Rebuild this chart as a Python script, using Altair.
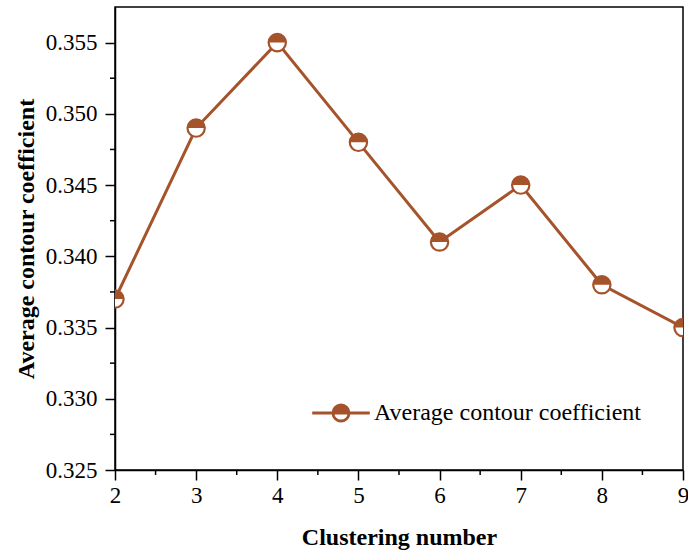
import altair as alt
import pandas as pd

clusters = [2, 3, 4, 5, 6, 7, 8, 9]
coef = [0.337, 0.349, 0.355, 0.348, 0.341, 0.345, 0.338, 0.335]
y_ticks = [0.325, 0.330, 0.335, 0.340, 0.345, 0.350, 0.355]
y_minor = [0.3275, 0.3325, 0.3375, 0.3425, 0.3475, 0.3525]
x_ticks = [2, 3, 4, 5, 6, 7, 8, 9]
x_minor = [2.5, 3.5, 4.5, 5.5, 6.5, 7.5, 8.5]
series_name = "Average contour coefficient"

C = "#A5532B"
FONT = "Liberation Serif"
W, H = 568, 463

df = pd.DataFrame({"k": clusters, "v": coef, "s": [series_name] * len(clusters)})
dfy = pd.DataFrame({"m": y_minor})
dfx = pd.DataFrame({"m": x_minor})

xs = alt.Scale(domain=[2, 9], nice=False, zero=False)
ys = alt.Scale(domain=[0.325, 0.3575], nice=False, zero=False)

common = dict(tickSize=10, grid=False, labelFont=FONT, labelFontSize=23, labelColor="black",
              titleFont=FONT, titleFontSize=24, titleFontWeight="bold", titleColor="black",
              domainColor="black", domainWidth=1.5, tickColor="black", tickWidth=1.5,
              labelFlush=False, labelOverlap=False)
xax = alt.Axis(values=x_ticks, title="Clustering number", format="d",
               labelPadding=4, titlePadding=18, **common)
yax = alt.Axis(values=y_ticks, title="Average contour coefficient", format=".3f",
               labelPadding=8, titlePadding=7, **common)

base = alt.Chart(df).encode(
    x=alt.X("k:Q", scale=xs, axis=xax),
    y=alt.Y("v:Q", scale=ys, axis=yax),
)

line = base.mark_line(color=C, strokeWidth=3, clip=True)
circ = base.mark_point(shape="circle", size=300, filled=True, fill="white",
                       stroke=C, strokeWidth=2.2, opacity=1, clip=True)
half = base.mark_point(shape="M -1 0 A 1 1 0 0 1 1 0 Z", size=300, filled=True,
                       opacity=1, clip=True).encode(
    color=alt.Color("s:N",
                    scale=alt.Scale(range=[C]),
                    legend=alt.Legend(
                        title=None, orient="none", legendX=214, legendY=394,
                        symbolType="M -3.6 0 L -1 0 M 1 0 L 3.6 0 M -1 0 A 1 1 0 1 1 1 0 A 1 1 0 1 1 -1 0 Z M -1 0 A 1 1 0 0 0 1 0 Z",
                        symbolSize=256, symbolStrokeColor=C, symbolStrokeWidth=2.8,
                        symbolOpacity=1, labelFont=FONT, labelFontSize=24, labelLimit=0,
                        labelColor="black", labelOffset=21, padding=0)))

ym = alt.Chart(dfy).mark_rule(color="black", strokeWidth=1.5).encode(
    y=alt.Y("m:Q", scale=ys), x=alt.value(-5), x2=alt.value(0))
xm = alt.Chart(dfx).mark_rule(color="black", strokeWidth=1.5).encode(
    x=alt.X("m:Q", scale=xs), y=alt.value(H), y2=alt.value(H + 5))

chart = alt.layer(line, circ, half, ym, xm).properties(
    width=W, height=H,
    background="white",
    autosize=alt.AutoSizeParams(type="none"),
    padding={"left": 115, "top": 7, "right": 5, "bottom": 83},
).configure_view(stroke="black", strokeWidth=1.5)

chart.save("out.html", embed_options={"renderer": "svg", "actions": False})
